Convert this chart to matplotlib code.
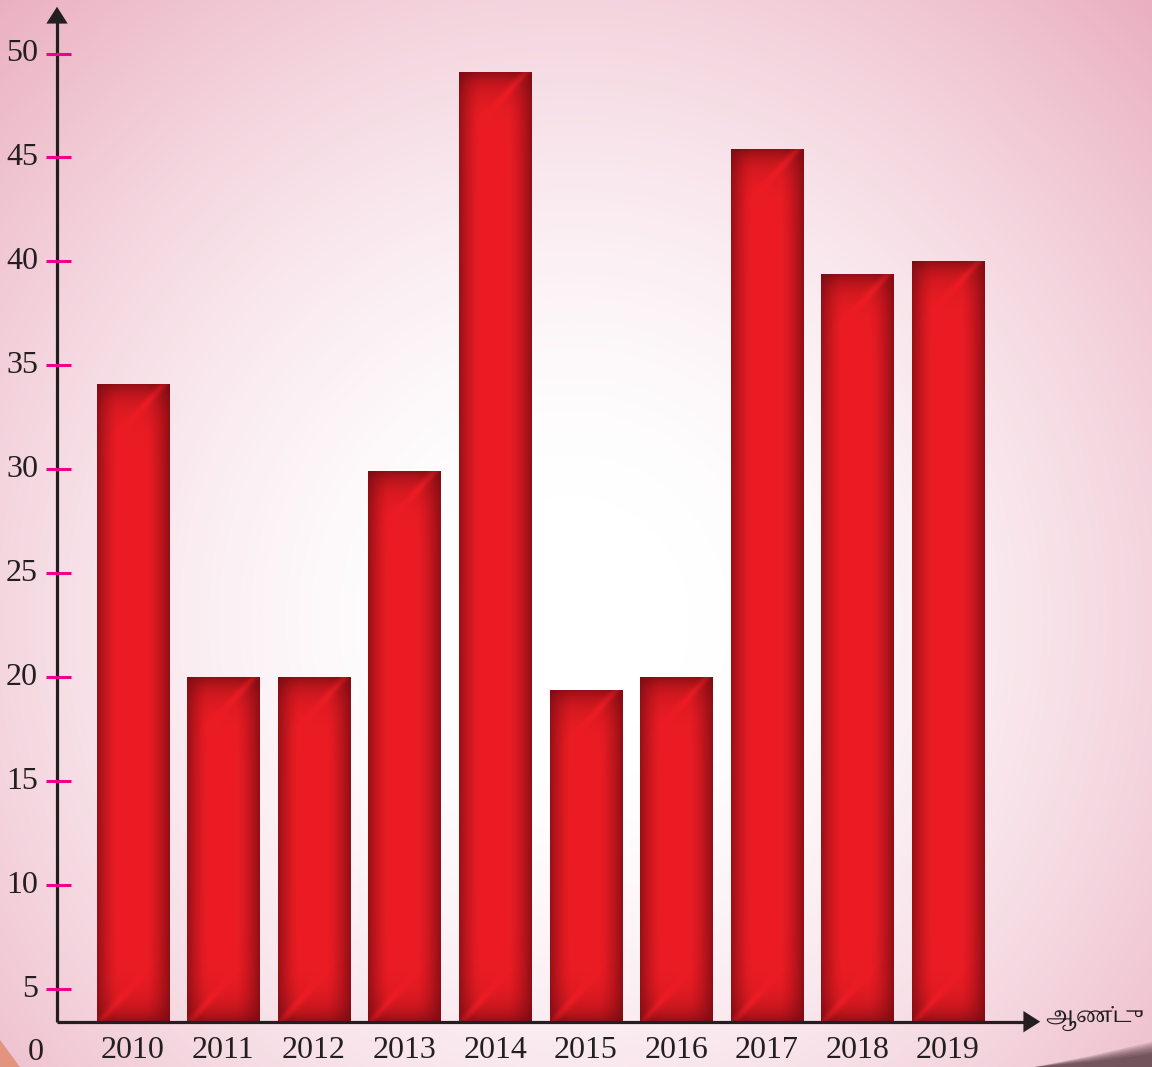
import numpy as np
import matplotlib
matplotlib.use("Agg")
import matplotlib.pyplot as plt
from matplotlib import font_manager
from matplotlib.ft2font import FT2Font
from matplotlib.patches import FancyArrowPatch, Polygon

years = ["2010", "2011", "2012", "2013", "2014", "2015", "2016", "2017", "2018", "2019"]
values = [34.1, 20.0, 20.0, 29.9, 49.1, 19.4, 20.0, 45.4, 39.4, 40.0]
y_ticks = [5, 10, 15, 20, 25, 30, 35, 40, 45, 50]
x_label = "ஆண்டு"

W, H = 1152, 1067
PX_PER_UNIT = 20.79      # vertical pixels per data unit
Y0_PX = 1093             # pixel row of value 0
X0_PX, DX_PX = 132.8, 90.58
BASE = 3.43              # value where the x axis sits


def px_x(p):
    return (p - X0_PX) / DX_PX


def px_y(p):
    return (Y0_PX - p) / PX_PER_UNIT


def find_tamil_font():
    for f in font_manager.fontManager.ttflist:
        if "tamil" in f.name.lower() and "serif" in f.name.lower():
            return f.name
    for f in font_manager.fontManager.ttflist:
        if "tamil" in f.name.lower():
            return f.name
    for f in font_manager.fontManager.ttflist:
        try:
            if FT2Font(f.fname).get_char_index(ord("ஆ")):
                return f.name
        except Exception:
            pass
    return "DejaVu Sans"


fig = plt.figure(figsize=(W / 100, H / 100), dpi=100)

# background: soft radial pink gradient
bg = fig.add_axes([0, 0, 1, 1], zorder=0)
yy, xx = np.mgrid[0:H:2, 0:W:2]
r = np.sqrt((xx - 570) ** 2 + ((yy - 620) / 1.05) ** 2)
t = np.clip((r - 120) / 760, 0, 1) ** 1.5
white = np.array([1.0, 1.0, 1.0])
pink = np.array([232, 166, 186]) / 255
img = white[None, None, :] * (1 - t[..., None]) + pink[None, None, :] * t[..., None]
bg.imshow(img, extent=(0, W, H, 0), aspect="auto", interpolation="bilinear")
bg.set_xlim(0, W)
bg.set_ylim(H, 0)
bg.axis("off")
# page decorations in the corners
bg.add_patch(Polygon([(0, 1040), (20, 1067), (0, 1067)], closed=True, color="#E4937F", lw=0))
for k in range(7):
    off = k * 2.0
    bg.add_patch(Polygon([(1035, 1067), (1090, 1056 + off * 0.5), (1152, 1042 + off), (1152, 1067)],
                         closed=True, color="#3a2228", alpha=0.15, lw=0))

ax = fig.add_axes([0, 0, 1, 1], zorder=1)
ax.patch.set_alpha(0)
xlim = (px_x(0), px_x(W))
ylim = (px_y(H), px_y(0))

x = np.arange(len(years))
bw = 72.3 / DX_PX
bars = ax.bar(x, np.array(values) - BASE, bottom=BASE, width=bw, color="#ED1C24", lw=0, zorder=2)

base_c = np.array([237, 28, 36]) / 255
dark_c = np.array([110, 10, 16]) / 255
for b, v in zip(bars, values):
    hp = int(round((v - BASE) * PX_PER_UNIT))
    wp = 72
    u = np.linspace(0, 1, wp)[None, :]
    dy_top = np.arange(hp)[:, None].astype(float)
    dy_bot = (hp - 1 - np.arange(hp))[:, None].astype(float)
    s = 1 - 0.65 * np.clip((0.3 - u) / 0.3, 0, 1) ** 1.5 - 0.72 * np.clip((u - 0.66) / 0.34, 0, 1) ** 1.5
    # top bevel with diagonal highlight
    hl_top = np.exp(-((u - (0.93 - 0.013 * dy_top)) / 0.07) ** 2)
    s = s * (1 - 0.72 * np.exp(-dy_top / 15) * (1 - hl_top))
    # bottom bevel with diagonal highlight
    hl_bot = np.exp(-((u - (0.02 + 0.013 * dy_bot)) / 0.07) ** 2)
    s = s * (1 - 0.7 * np.exp(-dy_bot / 16) * (1 - hl_bot))
    s = np.clip(s, 0, 1)
    im_arr = dark_c[None, None, :] + (base_c - dark_c)[None, None, :] * s[..., None]
    bx = b.get_x()
    im = ax.imshow(im_arr, extent=(bx, bx + b.get_width(), BASE, v), aspect="auto",
                   interpolation="bilinear", zorder=3, origin="upper")
    im.set_clip_path(b)

# axes with arrow heads
axis_c = "#231F20"
ax_x = px_x(57)
ax.plot([ax_x, ax_x], [BASE, px_y(20)], color=axis_c, lw=2.3, zorder=4, solid_capstyle="butt")
ax.plot([ax_x, px_x(1030)], [BASE, BASE], color=axis_c, lw=2.3, zorder=4, solid_capstyle="butt")
ax.add_patch(FancyArrowPatch((ax_x, px_y(25)), (ax_x, px_y(4)), arrowstyle="-|>,head_length=0.55,head_width=0.35",
                             mutation_scale=22, color=axis_c, lw=0, zorder=5))
ax.add_patch(FancyArrowPatch((px_x(1020), BASE), (px_x(1043), BASE), arrowstyle="-|>,head_length=0.55,head_width=0.35",
                             mutation_scale=22, color=axis_c, lw=0, zorder=5))

serif = "Liberation Serif"
for yt in y_ticks:
    ax.plot([px_x(46), px_x(71)], [yt, yt], color="#EC008C", lw=2.2, zorder=5, solid_capstyle="butt")
    ax.text(px_x(38), yt, str(yt), ha="right", va="center", fontsize=23, family=serif, color="#231F20", zorder=6)
ax.text(px_x(36), px_y(1052), "0", ha="center", va="center", fontsize=23, family=serif, color="#231F20", zorder=6)
for i, yr in enumerate(years):
    ax.text(i, px_y(1051), yr, ha="center", va="center", fontsize=23, family=serif, color="#231F20", zorder=6)

tamil = find_tamil_font()
ax.text(px_x(1045), px_y(1018), x_label, ha="left", va="center", fontsize=15,
        family=[tamil, "DejaVu Sans"], color="#231F20", zorder=6)

ax.set_xlim(*xlim)
ax.set_ylim(*ylim)
ax.axis("off")

fig.savefig("out.png", dpi=100)
